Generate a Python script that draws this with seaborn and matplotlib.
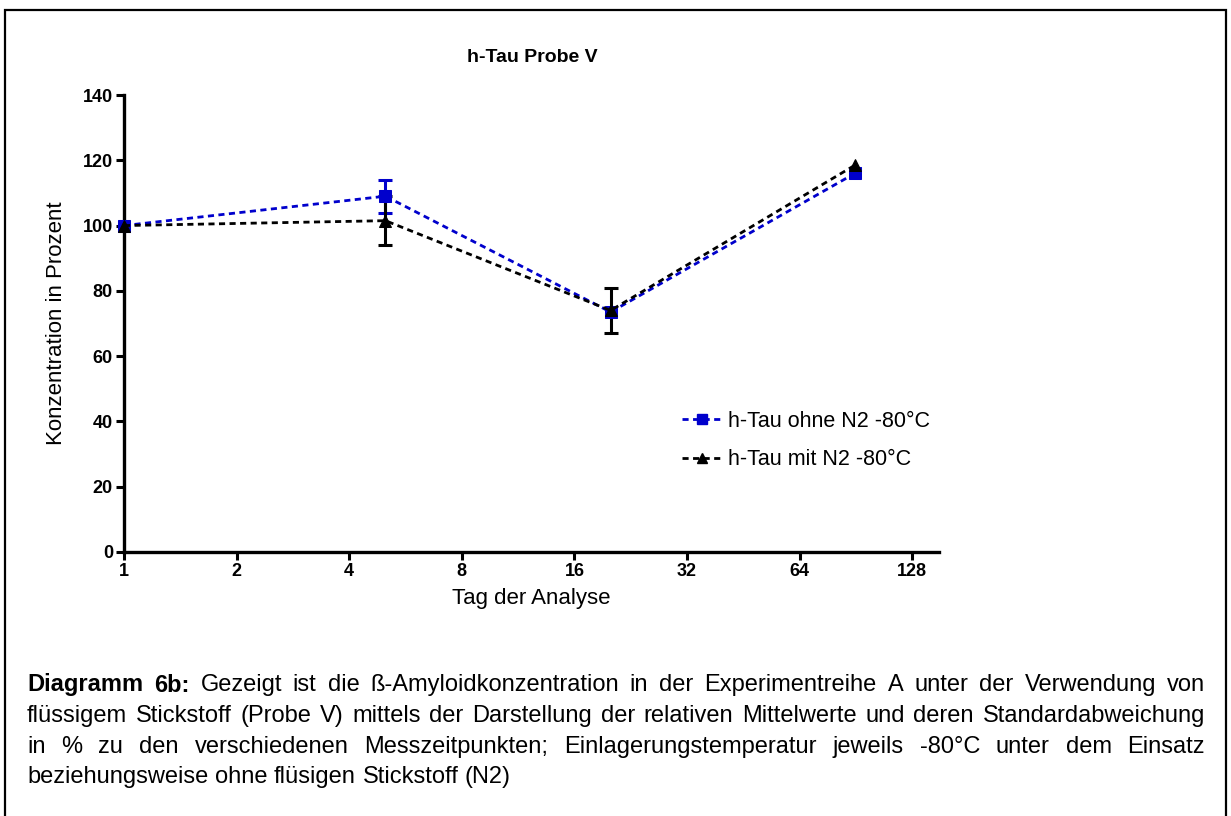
import matplotlib
matplotlib.use("Agg")
import matplotlib.pyplot as plt
from matplotlib.patches import Rectangle
from matplotlib.lines import Line2D
import seaborn as sns
import numpy as np

# ---- data ----
days = [1, 5, 20, 90]
ohne_mean = [100, 109, 73.5, 116]
ohne_sd = [0, 5, 0, 0]
mit_mean = [100, 101.5, 74, 118.5]
mit_sd = [0, 7.5, 7, 0]
series_labels = ["h-Tau ohne N2 -80°C", "h-Tau mit N2 -80°C"]
x_ticks = [1, 2, 4, 8, 16, 32, 64, 128]
y_ticks = [0, 20, 40, 60, 80, 100, 120, 140]
title = "h-Tau Probe V"
xlabel = "Tag der Analyse"
ylabel = "Konzentration in Prozent"
caption_lines = [
    [("Diagramm 6b:", True), ("Gezeigt ist die ß-Amyloidkonzentration in der Experimentreihe A unter der Verwendung von", False)],
    [("flüssigem Stickstoff (Probe V) mittels der Darstellung der relativen Mittelwerte und deren Standardabweichung", False)],
    [("in % zu den verschiedenen Messzeitpunkten; Einlagerungstemperatur jeweils -80°C unter dem Einsatz", False)],
    [("beziehungsweise ohne flüsigen Stickstoff (N2)", False)],
]
justify = [True, True, True, False]

sns.set_theme(style="white")
plt.rcParams["font.family"] = ["Liberation Sans", "DejaVu Sans"]
plt.rcParams["text.color"] = "black"
plt.rcParams["axes.labelcolor"] = "black"
plt.rcParams["xtick.color"] = "black"
plt.rcParams["ytick.color"] = "black"

W, H = 1231, 816
fig = plt.figure(figsize=(W / 100, H / 100), dpi=100)
fig.patch.set_facecolor("white")

# outer border
fig.patches.append(Rectangle((5 / W, -0.02), 1221 / W, 1.02 - 10 / H, transform=fig.transFigure,
                             fill=False, edgecolor="black", linewidth=1.6))

ax = fig.add_axes([124 / W, 1 - 552 / H, (939 - 124) / W, (552 - 95) / H])
ax.set_facecolor("white")

blue = "#0000CC"
dash = (0, (2.2, 1.6))

sns.lineplot(x=days, y=ohne_mean, ax=ax, color=blue, linestyle=dash, linewidth=2,
             marker="s", markersize=8, markeredgecolor=blue, markerfacecolor=blue,
             label=series_labels[0], clip_on=False, zorder=3)
sns.lineplot(x=days, y=mit_mean, ax=ax, color="black", linestyle=dash, linewidth=2,
             marker="^", markersize=8, markeredgecolor="black", markerfacecolor="black",
             label=series_labels[1], clip_on=False, zorder=4)

for xs, ms, sds, col in [(days, ohne_mean, ohne_sd, blue), (days, mit_mean, mit_sd, "black")]:
    sel = [i for i, s in enumerate(sds) if s > 0]
    ax.errorbar([xs[i] for i in sel], [ms[i] for i in sel], yerr=[sds[i] for i in sel],
                fmt="none", ecolor=col, elinewidth=2.2, capsize=5, capthick=2.2,
                zorder=2, clip_on=False)

ax.set_xscale("log", base=2)
ax.set_xlim(1, 151)
ax.set_ylim(0, 140)
ax.set_xticks(x_ticks)
ax.set_xticklabels([str(t) for t in x_ticks])
ax.set_yticks(y_ticks)
ax.set_yticklabels([str(t) for t in y_ticks])
ax.xaxis.set_minor_locator(matplotlib.ticker.NullLocator())

for s in ["top", "right"]:
    ax.spines[s].set_visible(False)
for s in ["left", "bottom"]:
    ax.spines[s].set_linewidth(2.4)
    ax.spines[s].set_color("black")

ax.tick_params(axis="both", which="major", direction="out", length=6, width=2.2,
               color="black", labelsize=13, pad=2, bottom=True, left=True)
for lab in ax.get_xticklabels() + ax.get_yticklabels():
    lab.set_fontweight("bold")
    lab.set_color("black")

ax.set_xlabel(xlabel, fontsize=16, color="black", labelpad=6)
ax.set_ylabel(ylabel, fontsize=16, color="black", labelpad=11)
fig.text(532 / W, 1 - 58 / H, title, fontsize=14, fontweight="bold", ha="center", va="center")

handles = [
    Line2D([], [], color=blue, linestyle=dash, linewidth=2, marker="s", markersize=7,
           markerfacecolor=blue, markeredgecolor=blue),
    Line2D([], [], color="black", linestyle=dash, linewidth=2, marker="^", markersize=7,
           markerfacecolor="black", markeredgecolor="black"),
]
ax.legend(handles, series_labels, loc="upper left", bbox_to_anchor=(682 / W, 1 - 411 / H),
          bbox_transform=fig.transFigure, frameon=False, fontsize=15.5, handlelength=1.9,
          handletextpad=0.25, labelspacing=0.8, borderpad=0, borderaxespad=0)

# caption with justified lines
renderer = fig.canvas.get_renderer()
cap_fs = 17
left_px, right_px = 27, 1205
line_y = [685, 716, 747, 777]
sp = fig.text(0, 0, "a b", fontsize=cap_fs)
w1 = sp.get_window_extent(renderer).width
sp.set_text("ab")
w2 = sp.get_window_extent(renderer).width
sp.remove()
space_w = w1 - w2
for li, segs in enumerate(caption_lines):
    words = []
    for text, bold in segs:
        for w in text.split(" "):
            words.append((w, bold))
    texts = []
    widths = []
    for w, bold in words:
        t = fig.text(0, 1 - line_y[li] / H, w, fontsize=cap_fs, fontweight="bold" if bold else "normal",
                     ha="left", va="center")
        texts.append(t)
        widths.append(t.get_window_extent(renderer).width)
    if justify[li] and len(words) > 1:
        gap = (right_px - left_px - sum(widths)) / (len(words) - 1)
    else:
        gap = space_w
    x = left_px
    for t, w in zip(texts, widths):
        t.set_x(x / W)
        x += w + gap

fig.savefig("out.png", dpi=100, facecolor="white")
